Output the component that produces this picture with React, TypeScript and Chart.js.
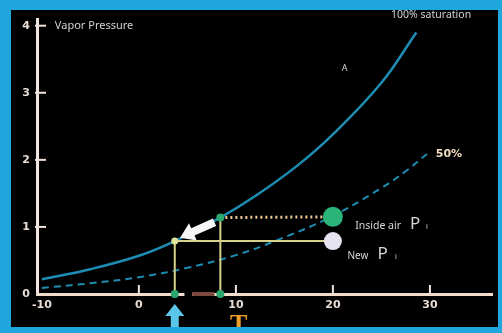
import React, { useEffect, useRef } from "react";
import { Chart, registerables } from "chart.js";

Chart.register(...registerables);

// ---- data ----
const X_TICKS = [-10, 0, 10, 20, 30];
const Y_TICKS = [0, 1, 2, 3, 4];
const X_LABELS = ["-10", "0", "10", "20", "30"];
const Y_LABELS = ["0", "1", "2", "3", "4"];

// 100% saturation curve (temperature °C, vapor pressure kPa)
const TEMP_100 = [-10, -5, 0, 3.7, 8.4, 12, 16.3, 20, 25, 28.6];
const VP_100 = [0.22, 0.37, 0.57, 0.79, 1.14, 1.46, 1.91, 2.38, 3.15, 3.9];

// 50% curve
const TEMP_50 = [-10, -5, 0, 5, 10, 14.2, 19.8, 25, 27.5, 29.8];
const VP_50 = [0.09, 0.16, 0.25, 0.39, 0.58, 0.8, 1.15, 1.58, 1.83, 2.1];

const INSIDE_AIR = { x: 20, y: 1.15 };
const NEW_AIR = { x: 20, y: 0.79 };
const DEW_INSIDE = { x: 8.4, y: 1.14 };
const DEW_NEW = { x: 3.7, y: 0.79 };

const toPts = (xs: number[], ys: number[]) => xs.map((x, i) => ({ x, y: ys[i] }));

const framePlugin = {
  id: "frame",
  beforeDraw(chart: any) {
    const ctx = chart.ctx;
    ctx.save();
    ctx.fillStyle = "#1fa6dd";
    ctx.fillRect(0, 0, chart.width, chart.height);
    ctx.fillStyle = "#000000";
    ctx.fillRect(11, 10, 487, 317);
    ctx.restore();
  },
};

function arrow(ctx: any, x1: number, y1: number, x2: number, y2: number, sw: number, hl: number, hw: number, color: string) {
  const ang = Math.atan2(y2 - y1, x2 - x1);
  const len = Math.hypot(x2 - x1, y2 - y1);
  ctx.save();
  ctx.translate(x1, y1);
  ctx.rotate(ang);
  ctx.beginPath();
  ctx.moveTo(0, -sw / 2);
  ctx.lineTo(len - hl, -sw / 2);
  ctx.lineTo(len - hl, -hw / 2);
  ctx.lineTo(len, 0);
  ctx.lineTo(len - hl, hw / 2);
  ctx.lineTo(len - hl, sw / 2);
  ctx.lineTo(0, sw / 2);
  ctx.closePath();
  ctx.fillStyle = color;
  ctx.fill();
  ctx.restore();
}

const annotPlugin = {
  id: "annot",
  afterDatasetsDraw(chart: any) {
    const ctx = chart.ctx;
    const xs = chart.scales.x;
    const ys = chart.scales.y;
    const X = (v: number) => xs.getPixelForValue(v);
    const Y = (v: number) => ys.getPixelForValue(v);
    const ax = chart.chartArea.left;
    const ay = chart.chartArea.bottom;
    ctx.save();
    ctx.beginPath();
    ctx.rect(11, 10, 487, 317);
    ctx.clip();

    // tick marks (inside)
    ctx.strokeStyle = "#f2e2da";
    ctx.lineWidth = 2;
    Y_TICKS.forEach((v) => {
      if (v === 0) return;
      const y = Y(v);
      ctx.beginPath();
      ctx.moveTo(ax - 2, y);
      ctx.lineTo(ax + 9, y);
      ctx.stroke();
    });
    X_TICKS.forEach((v) => {
      if (v === -10) return;
      const x = X(v);
      ctx.beginPath();
      ctx.moveTo(x, ay - 9);
      ctx.lineTo(x, ay);
      ctx.stroke();
    });

    // highlighted segment on the axis
    ctx.fillStyle = "#000000";
    ctx.fillRect(X(4.7), ay - 2, X(5.5) - X(4.7), 4);
    ctx.fillStyle = "#7a4a3c";
    ctx.fillRect(X(5.5), ay - 2, X(7.8) - X(5.5), 4);

    // white arrow
    arrow(ctx, X(7.8), Y(1.07), X(4.25), Y(0.84), 8, 14, 19, "#f6f6f6");

    // cyan up arrow under axis
    const ux = X(DEW_NEW.x);
    arrow(ctx, ux, 328, ux, ay + 10, 8, 12, 19, "#5cc6ea");

    // orange T
    ctx.fillStyle = "#f0a02a";
    ctx.font = "bold 26px 'Liberation Serif'";
    ctx.textAlign = "center";
    ctx.textBaseline = "alphabetic";
    ctx.fillText("T", X(10.3), 332);

    // texts
    ctx.textAlign = "left";
    ctx.textBaseline = "middle";
    ctx.fillStyle = "#d2d2d2";
    ctx.font = "11px 'Noto Sans'";
    ctx.fillText("Vapor Pressure", X(-8.66), Y(4.0));
    ctx.font = "10.5px 'Noto Sans'";
    ctx.fillText("100% saturation", X(26.0), Y(4.16));
    ctx.font = "9px 'Noto Sans'";
    ctx.textAlign = "center";
    ctx.fillText("A", X(21.2), Y(3.36));
    ctx.textAlign = "left";
    ctx.fillStyle = "#f2dcc0";
    ctx.font = "bold 11px 'DejaVu Sans'";
    ctx.fillText("50%", X(30.6), Y(2.09));

    ctx.textBaseline = "alphabetic";
    ctx.fillStyle = "#d6d6d6";
    ctx.font = "10.5px 'Noto Sans'";
    ctx.fillText("Inside air", X(22.3), Y(0.97));
    ctx.font = "17px 'Noto Sans'";
    ctx.fillText("P", X(27.95), Y(0.97));
    ctx.font = "7px 'Noto Sans'";
    ctx.fillText("i", X(29.6), Y(0.97));

    ctx.font = "10px 'Noto Sans'";
    ctx.fillText("New", X(21.5), Y(0.52));
    ctx.font = "17px 'Noto Sans'";
    ctx.fillText("P", X(24.6), Y(0.52));
    ctx.font = "7px 'Noto Sans'";
    ctx.fillText("i", X(26.4), Y(0.52));

    ctx.restore();
  },
};

export default function App() {
  const ref = useRef<HTMLCanvasElement | null>(null);
  useEffect(() => {
    if (!ref.current) return;
    const lineYellow = "#d6d28a";
    const chart = new Chart(ref.current, {
      type: "scatter",
      data: {
        datasets: [
          {
            data: [INSIDE_AIR],
            pointRadius: 10,
            pointBackgroundColor: "#2bb37a",
            pointBorderWidth: 0,
            clip: false,
          } as any,
          {
            data: [NEW_AIR],
            pointRadius: 9,
            pointBackgroundColor: "#e6e4f0",
            pointBorderWidth: 0,
            clip: false,
          },
          {
            data: [DEW_INSIDE, { x: DEW_INSIDE.x, y: 0 }, { x: DEW_NEW.x, y: 0 }],
            pointRadius: 4,
            pointBackgroundColor: "#2aa870",
            pointBorderWidth: 0,
            clip: false,
          },
          {
            data: [DEW_NEW],
            pointRadius: 3.5,
            pointBackgroundColor: "#e0e49a",
            pointBorderWidth: 0,
            clip: false,
          },
          {
            data: [DEW_INSIDE, INSIDE_AIR],
            showLine: true,
            borderColor: "#f0c898",
            borderWidth: 3,
            borderDash: [2, 3],
            pointRadius: 0,
          },
          {
            data: [DEW_NEW, NEW_AIR],
            showLine: true,
            borderColor: lineYellow,
            borderWidth: 2,
            pointRadius: 0,
          },
          {
            data: [{ x: DEW_NEW.x, y: 0 }, DEW_NEW],
            showLine: true,
            borderColor: lineYellow,
            borderWidth: 2,
            pointRadius: 0,
          },
          {
            data: [{ x: DEW_INSIDE.x, y: 0 }, DEW_INSIDE],
            showLine: true,
            borderColor: lineYellow,
            borderWidth: 2,
            pointRadius: 0,
          },
          {
            data: toPts(TEMP_100, VP_100),
            showLine: true,
            borderColor: "#1e8db3",
            borderWidth: 2.5,
            tension: 0.4,
            pointRadius: 0,
          },
          {
            data: toPts(TEMP_50, VP_50),
            showLine: true,
            borderColor: "#1e8db3",
            borderWidth: 2,
            borderDash: [7, 5],
            tension: 0.4,
            pointRadius: 0,
          },
        ],
      },
      options: {
        animation: false,
        responsive: false,
        layout: { padding: { left: 11, top: 19, right: 4, bottom: 8 } },
        plugins: { legend: { display: false }, tooltip: { enabled: false } },
        scales: {
          x: {
            type: "linear",
            min: -10.5,
            max: 36.4,
            afterFit: (s: any) => {
              s.height = 31;
            },
            afterBuildTicks: (s: any) => {
              s.ticks = X_TICKS.map((v) => ({ value: v }));
            },
            grid: { display: false, drawTicks: false },
            border: { display: true, color: "#f2dccb", width: 3 },
            ticks: {
              padding: 5,
              color: "#e8dcd4",
              font: { family: "DejaVu Sans", size: 11, weight: "bold" },
              maxRotation: 0,
              callback: (v: any) => X_LABELS[X_TICKS.indexOf(Number(v))] ?? "",
            },
          },
          y: {
            type: "linear",
            min: 0,
            max: 4.1,
            afterFit: (s: any) => {
              s.width = 26;
            },
            afterBuildTicks: (s: any) => {
              s.ticks = Y_TICKS.map((v) => ({ value: v }));
            },
            grid: { display: false, drawTicks: false },
            border: { display: true, color: "#f4e4e0", width: 3 },
            ticks: {
              padding: 7,
              color: "#e8dcd4",
              font: { family: "DejaVu Sans", size: 11, weight: "bold" },
              callback: (v: any) => Y_LABELS[Y_TICKS.indexOf(Number(v))] ?? "",
            },
          },
        },
      } as any,
      plugins: [framePlugin, annotPlugin],
    });
    return () => chart.destroy();
  }, []);

  return (
    <div style={{ position: "absolute", left: 0, top: 0, width: 502, height: 333 }}>
      <canvas ref={ref} width={502} height={333} style={{ display: "block" }} />
    </div>
  );
}
